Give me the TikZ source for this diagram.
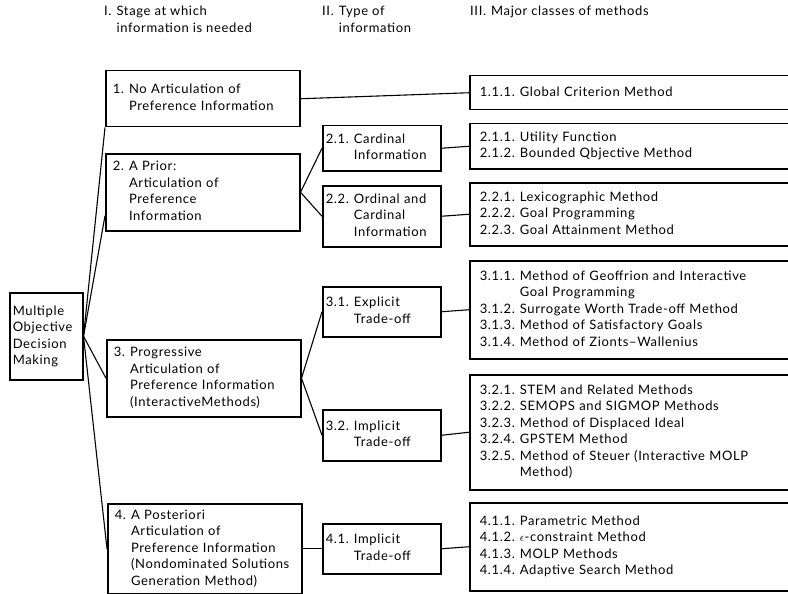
\documentclass[tikz,border=0pt]{standalone}
\usepackage{fontspec}
\setmainfont{Lato}[LetterSpace=5]
\usepackage{tikz}
\usetikzlibrary{calc}

\newcommand{\numtab}[1]{\begin{tabular}{@{}l@{\hspace{5pt}}l@{}}#1\end{tabular}}

\begin{document}
\begin{tikzpicture}[x=1pt,y=-1pt,
  box/.style={draw=black, line width=1.5pt, anchor=north west, align=left,
    font=\fontsize{13}{16.5}\selectfont},
  rootbox/.style={box, minimum width=73pt, text width=67pt, inner xsep=3pt},
  stagebox/.style={box, minimum width=194pt, text width=180pt, inner xsep=7pt},
  typebox/.style={box, minimum width=118pt, text width=112pt, inner xsep=3pt},
  methodbox/.style={box, minimum width=330pt, text width=310pt, inner xsep=10pt},
  head/.style={anchor=north west, inner sep=0pt, align=left,
    font=\fontsize{13}{16.5}\selectfont},
  link/.style={draw=black, line width=1.1pt}]
\clip (0,0) rectangle (788,594);

\node[head] (hI) at (104,4) {\numtab{I. & Stage at which\\ & information is needed}};
\node[head] (hII) at (322,4) {\numtab{II. & Type of\\ & information}};
\node[head] (hIII) at (470,4) {\numtab{III. & Major classes of methods}};

\node[rootbox, minimum height=87pt] (mo) at (9,292) {Multiple\\Objective\\Decision\\Making};

\node[stagebox, minimum height=56pt] (s1) at (105,70) {\numtab{1. & No Articulation of\\ & Preference Information}};
\node[stagebox, minimum height=77pt] (s2) at (105,153) {\numtab{2. & A Prior:\\ & Articulation of\\ & Preference\\ & Information}};
\node[stagebox, minimum height=77pt] (s3) at (106,339) {\numtab{3. & Progressive\\ & Articulation of\\ & Preference Information\\ & (InteractiveMethods)}};
\node[stagebox, minimum height=90pt] (s4) at (107,503) {\numtab{4. & A Posteriori\\ & Articulation of\\ & Preference Information\\ & (Nondominated Solutions\\ & Generation Method)}};

\node[typebox, minimum height=45pt] (t21) at (322,125) {\numtab{2.1. & Cardinal\\ & Information}};
\node[typebox, minimum height=61pt] (t22) at (322,185) {\numtab{2.2. & Ordinal and\\ & Cardinal\\ & Information}};
\node[typebox, minimum height=50pt] (t31) at (322,286) {\numtab{3.1. & Explicit\\ & Trade-off}};
\node[typebox, minimum height=51pt] (t32) at (322,409) {\numtab{3.2. & Implicit\\ & Trade-off}};
\node[typebox, minimum height=50pt] (t41) at (322,523) {\numtab{4.1. & Implicit\\ & Trade-off}};

\node[methodbox, minimum height=34pt] (m11) at (469,75) {\numtab{1.1.1. & Global Criterion Method}};
\node[methodbox, minimum height=45pt] (m21) at (469,123) {\numtab{2.1.1. & Utility Function\\ 2.1.2. & Bounded Qbjective Method}};
\node[methodbox, minimum height=63pt] (m22) at (469,182) {\numtab{2.2.1. & Lexicographic Method\\ 2.2.2. & Goal Programming\\ 2.2.3. & Goal Attainment Method}};
\node[methodbox, minimum height=98pt] (m31) at (469,260) {\numtab{3.1.1. & Method of Geoffrion and Interactive\\ & Goal Programming\\ 3.1.2. & Surrogate Worth Trade-off Method\\ 3.1.3. & Method of Satisfactory Goals\\ 3.1.4. & Method of Zionts--Wallenius}};
\node[methodbox, minimum height=115pt] (m32) at (469,374) {\numtab{3.2.1. & STEM and Related Methods\\ 3.2.2. & SEMOPS and SIGMOP Methods\\ 3.2.3. & Method of Displaced Ideal\\ 3.2.4. & GPSTEM Method\\ 3.2.5. & Method of Steuer (Interactive MOLP\\ & Method)}};
\node[methodbox, minimum height=88pt] (m41) at (469,502) {\numtab{4.1.1. & Parametric Method\\ 4.1.2. & $\epsilon$-constraint Method\\ 4.1.3. & MOLP Methods\\ 4.1.4. & Adaptive Search Method}};

\draw[link] (mo.east) -- (s1.south west);
\draw[link] (mo.east) -- ($(s2.south west)!0.2!(s2.north west)$);
\draw[link] (mo.east) -- (s3.west);
\draw[link] (mo.east) -- (s4.west);

\draw[link] (s1.east) -- (m11.west);
\draw[link] (s2.east) -- (t21.west);
\draw[link] (s2.east) -- (t22.west);
\draw[link] (s3.east) -- (t31.west);
\draw[link] (s3.east) -- (t32.west);
\draw[link] (s4.east) -- (t41.west);

\draw[link] (t21.east) -- (m21.west);
\draw[link] (t22.east) -- (m22.west);
\draw[link] (t31.east) -- (m31.west);
\draw[link] (t32.east) -- (m32.west);
\draw[link] (t41.east) -- (m41.west);
\end{tikzpicture}
\end{document}
